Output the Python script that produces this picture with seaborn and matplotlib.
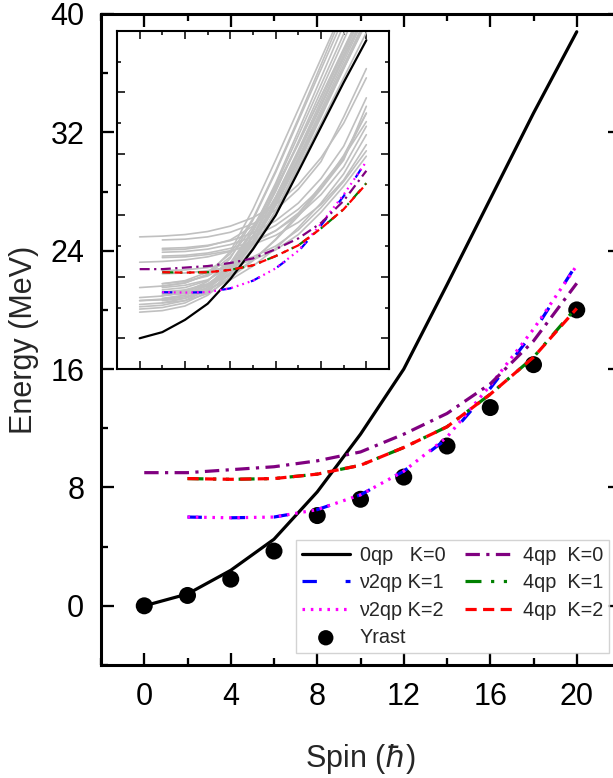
import matplotlib
matplotlib.use("Agg")
import matplotlib.pyplot as plt
import pandas as pd
import seaborn as sns
from matplotlib.ticker import MultipleLocator

sns.set_theme(style="ticks")
plt.rcParams["font.family"] = ["Liberation Sans", "DejaVu Sans"]
plt.rcParams["mathtext.fontset"] = "dejavusans"

# spin values (hbar)
SPINS = [0, 2, 4, 6, 8, 10, 12, 14, 16, 18, 20]
SPINS_2 = SPINS[1:]

# energies (MeV)
E_0QP = [0, 0.8, 2.4, 4.5, 7.7, 11.6, 16.0, 21.7, 27.5, 33.3, 38.8]
E_V2QP_K1 = [6.0, 5.95, 6.0, 6.5, 7.5, 9.1, 11.3, 14.7, 18.5, 23.1]
E_V2QP_K2 = [6.0, 5.95, 6.0, 6.5, 7.5, 9.1, 11.4, 14.9, 18.7, 23.0]
E_4QP_K0 = [9.0, 9.0, 9.2, 9.4, 9.8, 10.4, 11.6, 13.0, 15.0, 17.9, 21.8]
E_4QP_K1 = [8.6, 8.55, 8.6, 8.9, 9.5, 10.7, 12.1, 14.3, 16.8, 20.2]
E_4QP_K2 = [8.6, 8.55, 8.6, 8.9, 9.5, 10.7, 12.1, 14.3, 16.8, 20.1]
YRAST = [0, 0.7, 1.8, 3.7, 6.1, 7.2, 8.7, 10.8, 13.4, 16.3, 20.0]

# other configurations shown in grey in the inset
GRAY_FROM_0 = [
    [3.4, 3.6, 4.2, 5.6, 8.0, 11.8, 16.6, 22.2, 28.0, 33.9, 39.8],
    [3.8, 4.0, 4.6, 6.0, 8.5, 12.5, 17.5, 23.2, 29.1, 35.1, 41.1],
    [4.1, 4.3, 4.9, 6.3, 9.0, 13.2, 18.4, 24.3, 30.4, 36.5, 42.6],
    [4.9, 5.1, 5.6, 6.9, 9.6, 13.9, 19.3, 25.3, 31.5, 37.7, 43.9],
    [6.6, 6.8, 7.2, 8.3, 10.6, 14.5, 19.6, 25.4, 31.4, 37.5, 43.6],
    [4.4, 4.6, 5.2, 6.6, 9.4, 14.0, 19.9, 26.4, 33.0, 39.6, 46.2],
    [5.3, 5.5, 6.0, 7.4, 10.4, 15.4, 21.6, 28.3, 35.0, 41.7, 48.4],
    [13.2, 13.3, 13.5, 13.9, 14.6, 15.7, 17.4, 20.0, 23.5, 28.0, 33.9],
    [9.9, 10.0, 10.2, 10.6, 11.3, 12.4, 14.0, 16.3, 19.5, 23.8, 29.3],
    [4.9, 5.0, 5.4, 6.3, 7.9, 10.1, 12.9, 16.2, 19.9, 23.6, 28.2],
]
GRAY_FROM_2 = [
    [5.2, 5.6, 6.6, 8.6, 12.2, 17.2, 23.0, 29.1, 35.3, 41.5],
    [5.6, 5.9, 6.8, 8.9, 12.8, 18.0, 24.0, 30.2, 36.5, 42.8],
    [6.0, 6.3, 7.1, 9.0, 12.5, 17.4, 23.2, 29.3, 35.5, 41.7],
    [6.6, 6.9, 7.6, 9.3, 12.7, 17.6, 23.5, 29.7, 36.0, 42.3],
    [7.1, 7.4, 8.1, 9.8, 13.3, 18.4, 24.5, 30.9, 37.3, 43.7],
    [4.6, 4.9, 5.8, 7.8, 11.5, 16.6, 22.6, 28.8, 35.1, 41.4],
    [4.9, 5.2, 6.1, 8.3, 12.3, 17.8, 24.0, 30.4, 36.9, 43.4],
    [5.8, 6.1, 7.0, 9.2, 13.4, 19.1, 25.6, 32.2, 38.8, 45.4],
    [6.3, 6.6, 7.5, 9.8, 14.2, 20.2, 27.0, 33.9, 40.8, 47.7],
    [6.8, 7.2, 8.3, 11.3, 16.8, 23.2, 29.8, 36.4, 43.0, 49.6],
    [7.1, 7.5, 8.6, 11.0, 15.6, 21.8, 28.6, 35.6, 42.6, 49.6],
    [11.5, 11.6, 12.0, 12.8, 14.6, 18.0, 23.2, 29.2, 35.4, 41.6],
    [12.8, 12.9, 13.2, 13.8, 14.9, 16.7, 19.4, 23.0, 28.8, 35.1],
    [11.7, 11.8, 12.1, 12.7, 13.7, 15.3, 17.6, 20.8, 25.0, 31.3],
    [11.2, 11.3, 11.6, 12.2, 13.2, 14.7, 16.8, 19.6, 23.4, 29.3],
    [10.7, 10.8, 11.1, 11.7, 12.6, 14.0, 16.0, 18.7, 22.3, 27.6],
    [10.5, 10.6, 10.9, 11.4, 12.2, 13.4, 15.1, 17.4, 20.6, 25.2],
    [8.8, 8.9, 9.2, 9.7, 10.6, 12.0, 14.1, 17.0, 20.4, 24.4],
    [8.4, 8.5, 8.8, 9.3, 10.2, 11.5, 13.5, 16.4, 19.8, 23.7],
    [5.6, 5.8, 6.4, 7.6, 9.4, 11.7, 14.4, 17.6, 21.4, 26.5],
    [6.0, 6.2, 6.9, 8.2, 10.2, 12.8, 15.9, 19.4, 23.2, 30.2],
]

CURVES = [
    ("0qp   K=0", SPINS, E_0QP, "black", "-"),
    ("\u03bd2qp K=1", SPINS_2, E_V2QP_K1, "#0000ff", (0, (4.5, 9))),
    ("\u03bd2qp K=2", SPINS_2, E_V2QP_K2, "#ff00ff", (0, (0.8, 1.8))),
    ("4qp  K=0", SPINS, E_4QP_K0, "#800080", (0, (4.5, 2, 1, 2))),
    ("4qp  K=1", SPINS_2, E_4QP_K1, "#008000", (0, (5, 3, 1, 3, 1, 3))),
    ("4qp  K=2", SPINS_2, E_4QP_K2, "#ff0000", (0, (3.5, 2))),
]


def draw_curves(ax, lw, with_labels):
    for label, x, y, color, ls in CURVES:
        sns.lineplot(x=x, y=y, ax=ax, color=color, linestyle=ls, lw=lw,
                     label=label if with_labels else None, zorder=3)


def style_axes(ax, spine_w, major_len, minor_len, labels):
    for s in ax.spines.values():
        s.set_visible(True)
        s.set_linewidth(spine_w)
        s.set_color("black")
    ax.xaxis.set_major_locator(MultipleLocator(4))
    ax.xaxis.set_minor_locator(MultipleLocator(2))
    ax.yaxis.set_major_locator(MultipleLocator(8))
    ax.yaxis.set_minor_locator(MultipleLocator(4))
    ax.tick_params(which="both", direction="in", top=True, right=True,
                   width=spine_w * 0.75, color="black")
    ax.tick_params(which="major", length=major_len)
    ax.tick_params(which="minor", length=minor_len)
    if labels:
        ax.tick_params(which="major", labelsize=22, pad=12, labelcolor="black")
    else:
        ax.tick_params(labelbottom=False, labelleft=False)


fig = plt.figure(figsize=(6.13, 7.78), dpi=100)
W, H = 613, 778
ax = fig.add_axes([101 / W, 1 - 665 / H, 519 / W, 651 / H])
ax.set_facecolor("white")

sns.scatterplot(x=SPINS, y=YRAST, ax=ax, s=150, color="black",
                edgecolor="none", label="Yrast", zorder=2)
draw_curves(ax, 2.3, True)

ax.set_xlim(-2, 22)
ax.set_ylim(-4, 40)
style_axes(ax, 2.2, 9, 5, True)
ax.set_xlabel("Spin ($\\hbar$)", fontsize=22, labelpad=22)
ax.set_ylabel("Energy (MeV)", fontsize=22, labelpad=8)

handles, labels = ax.get_legend_handles_labels()
order = ["0qp   K=0", "\u03bd2qp K=1", "\u03bd2qp K=2", "Yrast",
         "4qp  K=0", "4qp  K=1", "4qp  K=2"]
hmap = dict(zip(labels, handles))
leg = ax.legend([hmap[k] for k in order], order, loc="upper left",
                bbox_to_anchor=(296 / W, 1 - 540 / H),
                bbox_transform=fig.transFigure, ncol=2, fontsize=14.3,
                frameon=True, fancybox=False, edgecolor="#c8c8c8",
                handlelength=2.4, handletextpad=0.5, columnspacing=1.0,
                labelspacing=0.42, borderpad=0.3, borderaxespad=0,
                markerscale=0.9)
leg.get_frame().set_linewidth(1.0)

# inset with all configurations
axin = fig.add_axes([117 / W, 1 - 369 / H, 272 / W, 338 / H])
axin.set_facecolor("white")
rows = []
for i, vals in enumerate(GRAY_FROM_0):
    rows += [(f"a{i}", s, e) for s, e in zip(SPINS, vals)]
for i, vals in enumerate(GRAY_FROM_2):
    rows += [(f"b{i}", s, e) for s, e in zip(SPINS_2, vals)]
gray_df = pd.DataFrame(rows, columns=["conf", "spin", "energy"])
sns.lineplot(data=gray_df, x="spin", y="energy", units="conf", estimator=None,
             color="#c0c0c0", lw=1.2, ax=axin, zorder=1)
draw_curves(axin, 1.6, False)
axin.set_xlim(-2, 22)
axin.set_ylim(-4, 40)
axin.set_xlabel("")
axin.set_ylabel("")
style_axes(axin, 1.5, 6, 3, False)

fig.savefig("out.png", dpi=100)
